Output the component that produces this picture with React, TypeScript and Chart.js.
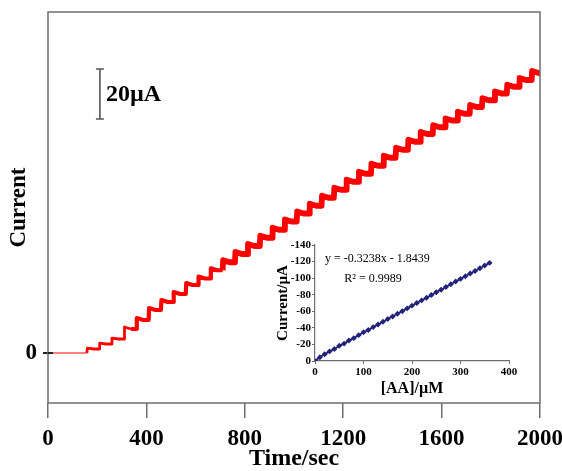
import React, { useEffect, useRef } from "react";
import { Chart, registerables } from "chart.js";

Chart.register(...registerables);

// ---------- main chart data ----------
const startTime = 0;
const endTime = 2000;
const baselineCurrent = 0;
const stepTimes = [
  158, 208, 258, 309, 359, 409, 459, 509, 560, 610, 660, 710, 760, 811, 861, 911, 961, 1011,
  1062, 1112, 1162, 1212, 1262, 1313, 1363, 1413, 1463, 1513, 1564, 1614, 1664, 1714, 1764,
  1815, 1865, 1915, 1966,
];
const stepCurrents = [
  1.6, 3.6, 5.6, 9.6, 13.2, 17.2, 20.4, 23.6, 27.2, 29.8, 33.1, 36.3, 39.6, 42.8, 46.1, 49.3,
  52.6, 55.8, 58.9, 62.1, 65.3, 68.5, 71.7, 74.9, 78.1, 81.3, 84.5, 87.6, 90.3, 93.0, 95.7,
  98.4, 101.1, 103.8, 106.5, 109.2, 112.0,
];
// transient overshoot right after each addition (µA) and its settling time (s)
const stepOvershoot = 0.8;
const settleTime = 28;
const xTickValues = [0, 400, 800, 1200, 1600, 2000];
const yTickValues = [0];
const scaleBarTime = 211;
const scaleBarFrom = 93.6;
const scaleBarSpan = 20;
const scaleBarLabel = "20\u00b5A";

// ---------- inset data ----------
const insetConc = [
  0, 10, 20, 30, 40, 50, 60, 70, 80, 90, 100, 110, 120, 130, 140, 150, 160, 170, 180, 190, 200,
  210, 220, 230, 240, 250, 260, 270, 280, 290, 300, 310, 320, 330, 340, 350, 360,
];
const insetCurrent = [
  0, -4.5, -8.2, -11.6, -14.5, -18.3, -21.0, -24.8, -27.6, -31.2, -34.6, -37.5, -40.9, -44.1,
  -47.3, -50.6, -53.8, -57.0, -60.1, -63.5, -66.8, -70.0, -73.2, -76.3, -79.7, -83.0, -86.1,
  -89.4, -92.6, -95.9, -99.1, -102.2, -105.6, -108.7, -112.0, -115.3, -118.4,
];
const insetXTicks = [0, 100, 200, 300, 400];
const insetYTicks = [-140, -120, -100, -80, -60, -40, -20, 0];
const equationText = "y = -0.3238x - 1.8439";
const r2Text = "R\u00b2 = 0.9989";

const SERIF = "'Liberation Serif', 'Times New Roman', serif";
const AXIS_GRAY = "#6e6e6e";

export default function App() {
  const mainRef = useRef<HTMLCanvasElement>(null);
  const insetRef = useRef<HTMLCanvasElement>(null);

  useEffect(() => {
    // build staircase points from step table
    const pts: { x: number; y: number }[] = [{ x: startTime, y: baselineCurrent }];
    let prev = baselineCurrent;
    stepTimes.forEach((t, i) => {
      const v = stepCurrents[i];
      const over = t > 300 ? stepOvershoot : stepOvershoot * 0.4;
      pts.push({ x: t, y: prev });
      pts.push({ x: t + 2, y: v + over });
      pts.push({ x: t + settleTime, y: v });
      prev = v;
    });
    pts.push({ x: endTime, y: prev });

    const framePlugin = {
      id: "frame",
      afterDraw(chart: any) {
        const { ctx, chartArea: a, scales } = chart;
        ctx.save();
        ctx.strokeStyle = AXIS_GRAY;
        ctx.lineWidth = 1.5;
        ctx.strokeRect(a.left, a.top, a.right - a.left, a.bottom - a.top);
        const ys = scales.y;
        yTickValues.forEach((v) => {
          const py = ys.getPixelForValue(v);
          ctx.strokeStyle = "#222";
          ctx.lineWidth = 2;
          ctx.beginPath();
          ctx.moveTo(a.left, py);
          ctx.lineTo(a.left + 5, py);
          ctx.stroke();
        });
        // scale bar
        const xs = scales.x;
        const bx = xs.getPixelForValue(scaleBarTime);
        const by1 = ys.getPixelForValue(scaleBarFrom);
        const by2 = ys.getPixelForValue(scaleBarFrom + scaleBarSpan);
        ctx.strokeStyle = "#555";
        ctx.lineWidth = 1.6;
        ctx.beginPath();
        ctx.moveTo(bx, by1);
        ctx.lineTo(bx, by2);
        ctx.moveTo(bx - 4, by1);
        ctx.lineTo(bx + 4, by1);
        ctx.moveTo(bx - 4, by2);
        ctx.lineTo(bx + 4, by2);
        ctx.stroke();
        ctx.fillStyle = "#000";
        ctx.font = `bold 24px ${SERIF}`;
        ctx.textAlign = "left";
        ctx.textBaseline = "middle";
        ctx.fillText(scaleBarLabel, bx + 6, (by1 + by2) / 2 + 1);
        ctx.restore();
      },
    };

    const main = new Chart(mainRef.current!, {
      type: "line",
      data: {
        datasets: [
          {
            data: pts,
            borderColor: "#ff0000",
            borderWidth: 4.5,
            pointRadius: 0,
            tension: 0,
            borderJoinStyle: "round",
            segment: {
              borderWidth: (c: any) => {
                const x = c.p0.parsed.x;
                if (x < 140) return 1.2;
                if (x < 330) return 2.8;
                if (x < 700) return 4.2;
                return 5.8;
              },
            },
          },
        ],
      },
      options: {
        responsive: false,
        animation: false,
        layout: { padding: { top: 12, right: 22, left: 0, bottom: 0 } },
        plugins: { legend: { display: false }, tooltip: { enabled: false } },
        scales: {
          x: {
            type: "linear",
            min: 0,
            max: 2000,
            afterBuildTicks: (s: any) => {
              s.ticks = xTickValues.map((v) => ({ value: v }));
            },
            afterFit: (s: any) => {
              s.height = 68;
              s.paddingLeft = 0;
              s.paddingRight = 0;
            },
            ticks: {
              color: "#000",
              font: { family: SERIF, size: 23, weight: "bold" },
              padding: 7,
              maxRotation: 0,
              autoSkip: false,
              callback: (v: any) => String(v),
            },
            grid: { drawOnChartArea: false, tickLength: 15, color: AXIS_GRAY, lineWidth: 1.5 },
            border: { display: false },
            title: {
              display: true,
              text: "Time/sec",
              color: "#000",
              font: { family: SERIF, size: 24, weight: "bold", lineHeight: 1 },
              padding: { top: 0, bottom: 0 },
            },
          },
          y: {
            type: "linear",
            min: -20,
            max: 136.4,
            afterBuildTicks: (s: any) => {
              s.ticks = yTickValues.map((v) => ({ value: v }));
            },
            afterFit: (s: any) => {
              s.width = 48;
              s.paddingTop = 0;
              s.paddingBottom = 0;
            },
            ticks: {
              color: "#000",
              font: { family: SERIF, size: 23, weight: "bold" },
              padding: 6,
              callback: (v: any) => String(v),
            },
            grid: { drawOnChartArea: false, tickLength: 5, color: "#222", lineWidth: 2 },
            border: { display: false },
            title: {
              display: true,
              text: "Current",
              color: "#000",
              font: { family: SERIF, size: 23, weight: "bold", lineHeight: 1 },
              padding: { top: 8, bottom: 0 },
            },
          },
        },
      },
      plugins: [framePlugin],
    });

    const insetTextPlugin = {
      id: "insetText",
      afterDraw(chart: any) {
        const { ctx, scales } = chart;
        const xs = scales.x;
        const ys = scales.y;
        ctx.save();
        ctx.fillStyle = "#000";
        ctx.font = `12px ${SERIF}`;
        ctx.textBaseline = "middle";
        ctx.textAlign = "left";
        ctx.fillText(equationText, xs.getPixelForValue(20.6), ys.getPixelForValue(-123));
        ctx.textAlign = "center";
        ctx.fillText(r2Text, xs.getPixelForValue(119.6), ys.getPixelForValue(-99));
        ctx.restore();
      },
    };

    const inset = new Chart(insetRef.current!, {
      type: "line",
      data: {
        datasets: [
          {
            data: insetConc.map((c, i) => ({ x: c, y: insetCurrent[i] })),
            borderColor: "#23237a",
            backgroundColor: "#23237a",
            borderWidth: 1.8,
            pointRadius: 1.7,
            pointStyle: "rectRot",
            tension: 0,
          },
        ],
      },
      options: {
        responsive: false,
        animation: false,
        layout: { padding: { top: 9, right: 11, left: 0, bottom: 0 } },
        plugins: { legend: { display: false }, tooltip: { enabled: false } },
        scales: {
          x: {
            type: "linear",
            min: 0,
            max: 400,
            afterBuildTicks: (s: any) => {
              s.ticks = insetXTicks.map((v) => ({ value: v }));
            },
            afterFit: (s: any) => {
              s.height = 39;
              s.paddingLeft = 0;
              s.paddingRight = 0;
            },
            ticks: {
              color: "#000",
              font: { family: SERIF, size: 11, weight: "bold" },
              padding: 2,
              maxRotation: 0,
              autoSkip: false,
              callback: (v: any) => String(v),
            },
            grid: { drawOnChartArea: false, tickLength: 3, color: AXIS_GRAY, lineWidth: 1 },
            border: { color: AXIS_GRAY, width: 1.2 },
            title: {
              display: true,
              text: "[AA]/\u00b5M",
              color: "#000",
              font: { family: SERIF, size: 16, weight: "bold", lineHeight: 1 },
              padding: { top: 0, bottom: 3 },
            },
          },
          y: {
            type: "linear",
            min: -140,
            max: 0,
            reverse: true,
            afterBuildTicks: (s: any) => {
              s.ticks = insetYTicks.map((v) => ({ value: v }));
            },
            afterFit: (s: any) => {
              s.width = 43;
              s.paddingTop = 0;
              s.paddingBottom = 0;
            },
            ticks: {
              color: "#000",
              font: { family: SERIF, size: 11, weight: "bold" },
              padding: 1,
              autoSkip: false,
              callback: (v: any) => String(v),
            },
            grid: { drawOnChartArea: false, tickLength: 3, color: AXIS_GRAY, lineWidth: 1 },
            border: { color: AXIS_GRAY, width: 1.2 },
            title: {
              display: true,
              text: "Current/\u00b5A",
              color: "#000",
              font: { family: SERIF, size: 15, weight: "bold", lineHeight: 1 },
              padding: { top: 4, bottom: 0 },
            },
          },
        },
      },
      plugins: [insetTextPlugin],
    });

    return () => {
      main.destroy();
      inset.destroy();
    };
  }, []);

  return (
    <div
      style={{
        position: "fixed",
        left: 0,
        top: 0,
        width: 562,
        height: 471,
        background: "#fff",
        overflow: "hidden",
      }}
    >
      <canvas
        ref={mainRef}
        width={562}
        height={471}
        style={{ position: "absolute", left: 0, top: 0, width: 562, height: 471 }}
      />
      <canvas
        ref={insetRef}
        width={248}
        height={164}
        style={{ position: "absolute", left: 272, top: 236, width: 248, height: 164 }}
      />
    </div>
  );
}
